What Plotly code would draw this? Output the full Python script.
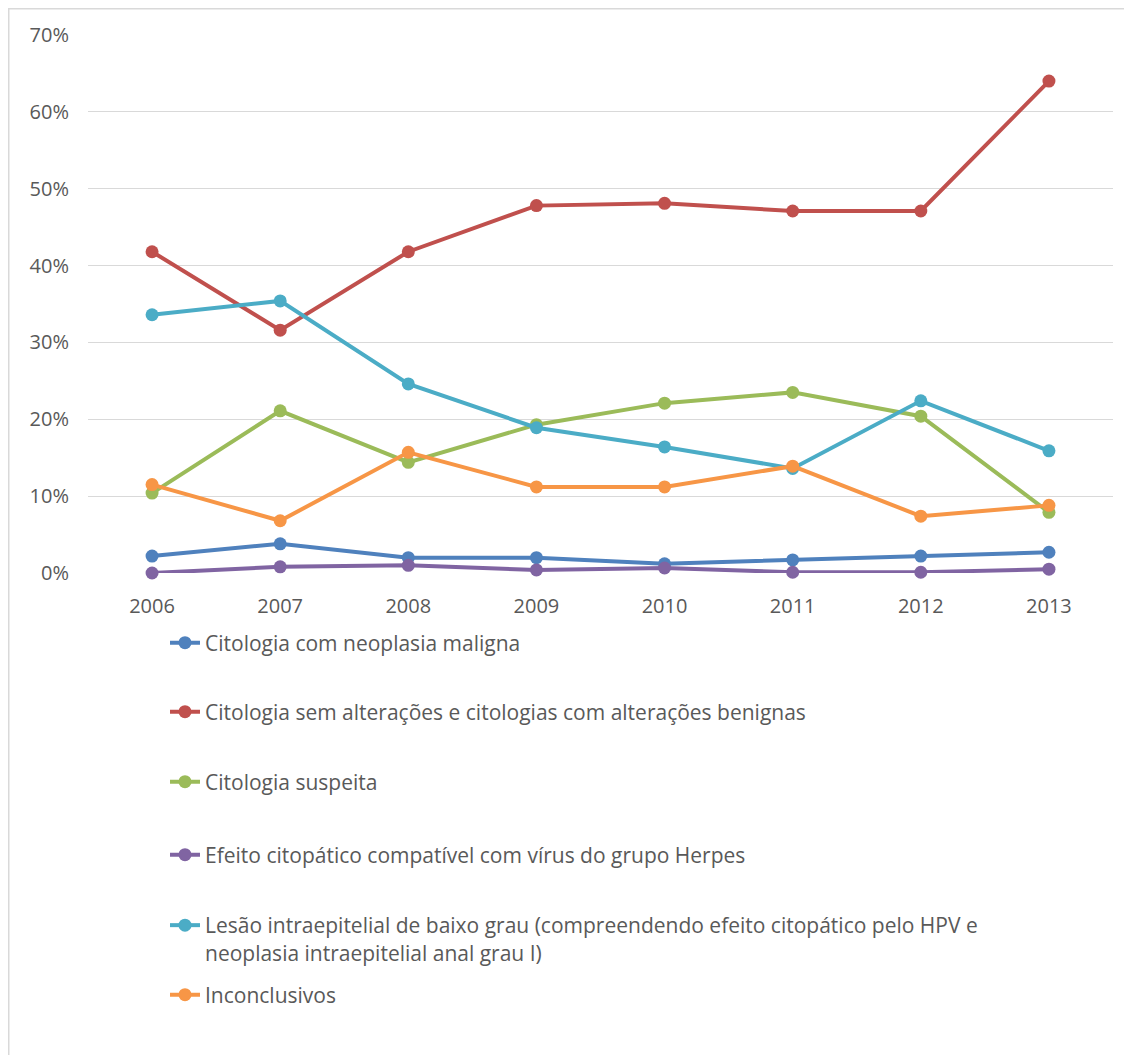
import plotly.graph_objects as go

years = ["2006", "2007", "2008", "2009", "2010", "2011", "2012", "2013"]

neoplasia_maligna = [0.022, 0.038, 0.020, 0.020, 0.012, 0.017, 0.022, 0.027]
sem_alteracoes = [0.418, 0.316, 0.418, 0.478, 0.481, 0.471, 0.471, 0.640]
suspeita = [0.104, 0.211, 0.144, 0.193, 0.221, 0.235, 0.204, 0.079]
herpes = [0.000, 0.008, 0.010, 0.004, 0.0065, 0.001, 0.001, 0.005]
baixo_grau = [0.336, 0.354, 0.246, 0.189, 0.164, 0.136, 0.224, 0.159]
inconclusivos = [0.115, 0.068, 0.157, 0.112, 0.112, 0.139, 0.074, 0.088]

series_names = [
    "Citologia com neoplasia maligna",
    "Citologia sem alterações e citologias com alterações benignas",
    "Citologia suspeita",
    "Efeito citopático compatível com vírus do grupo Herpes",
    "Lesão intraepitelial de baixo grau (compreendendo efeito citopático pelo HPV e<br>neoplasia intraepitelial anal grau I)",
    "Inconclusivos",
]
series_values = [neoplasia_maligna, sem_alteracoes, suspeita, herpes, baixo_grau, inconclusivos]
colors = ["#4F81BD", "#C0504D", "#9BBB59", "#8064A2", "#4BACC6", "#F79646"]
y_ticks = [0, 0.1, 0.2, 0.3, 0.4, 0.5, 0.6, 0.7]
y_tick_labels = ["0%", "10%", "20%", "30%", "40%", "50%", "60%", "70%"]

FONT = "'Open Sans', Lato, sans-serif"
TEXT = "#595959"

# layout geometry (figure pixels; the page adds an 8px body margin)
W, H = 1132, 1055
L, R, T, B = 80, 27, 27, 490
plot_w = W - L - R
plot_h = H - T - B
legend_centers_px = [635, 704, 774, 847, 931, 987]
legend_left_px = 157

fig = go.Figure()
legend_layouts = {}
for i, (name, vals, col) in enumerate(zip(series_names, series_values, colors)):
    lname = "legend" if i == 0 else f"legend{i+1}"
    fig.add_trace(go.Scatter(
        x=years, y=vals, name=name, mode="lines+markers",
        line=dict(color=col, width=4),
        marker=dict(color=col, size=13),
        cliponaxis=False,
        legend=lname,
    ))
    yc = (H - B - legend_centers_px[i]) / plot_h
    legend_layouts[lname] = dict(
        x=(legend_left_px - L) / plot_w, xanchor="left", y=yc, yanchor="middle",
        font=dict(family=FONT, size=21, color=TEXT),
        bgcolor="rgba(0,0,0,0)", borderwidth=0,
        valign="top",
    )

fig.update_layout(
    width=W, height=H,
    margin=dict(l=L, r=R, t=T, b=B),
    paper_bgcolor="white", plot_bgcolor="white",
    font=dict(family=FONT, size=21, color=TEXT),
    showlegend=True,
    **legend_layouts,
)

fig.update_xaxes(
    type="category", range=[-0.5, 7.5],
    showgrid=False, showline=False, zeroline=False,
    ticks="", ticklabelstandoff=19,
    tickfont=dict(family=FONT, size=20, color=TEXT),
)
fig.update_yaxes(
    range=[0, 0.7], tickvals=y_ticks, ticktext=y_tick_labels,
    showgrid=True, gridcolor="#D9D9D9", gridwidth=1,
    zeroline=False, showline=False, ticks="", ticklabelstandoff=18,
    tickfont=dict(family=FONT, size=20, color=TEXT),
)

# outer frame of the picture
fig.add_shape(
    type="rect", xref="paper", yref="paper",
    x0=(0.5 - L) / plot_w, x1=1.2,
    y0=-1.2, y1=(H - B - 0.5) / plot_h,
    line=dict(color="#D9D9D9", width=2), fillcolor="rgba(0,0,0,0)",
    layer="below",
)

fig.write_html("out.html")
